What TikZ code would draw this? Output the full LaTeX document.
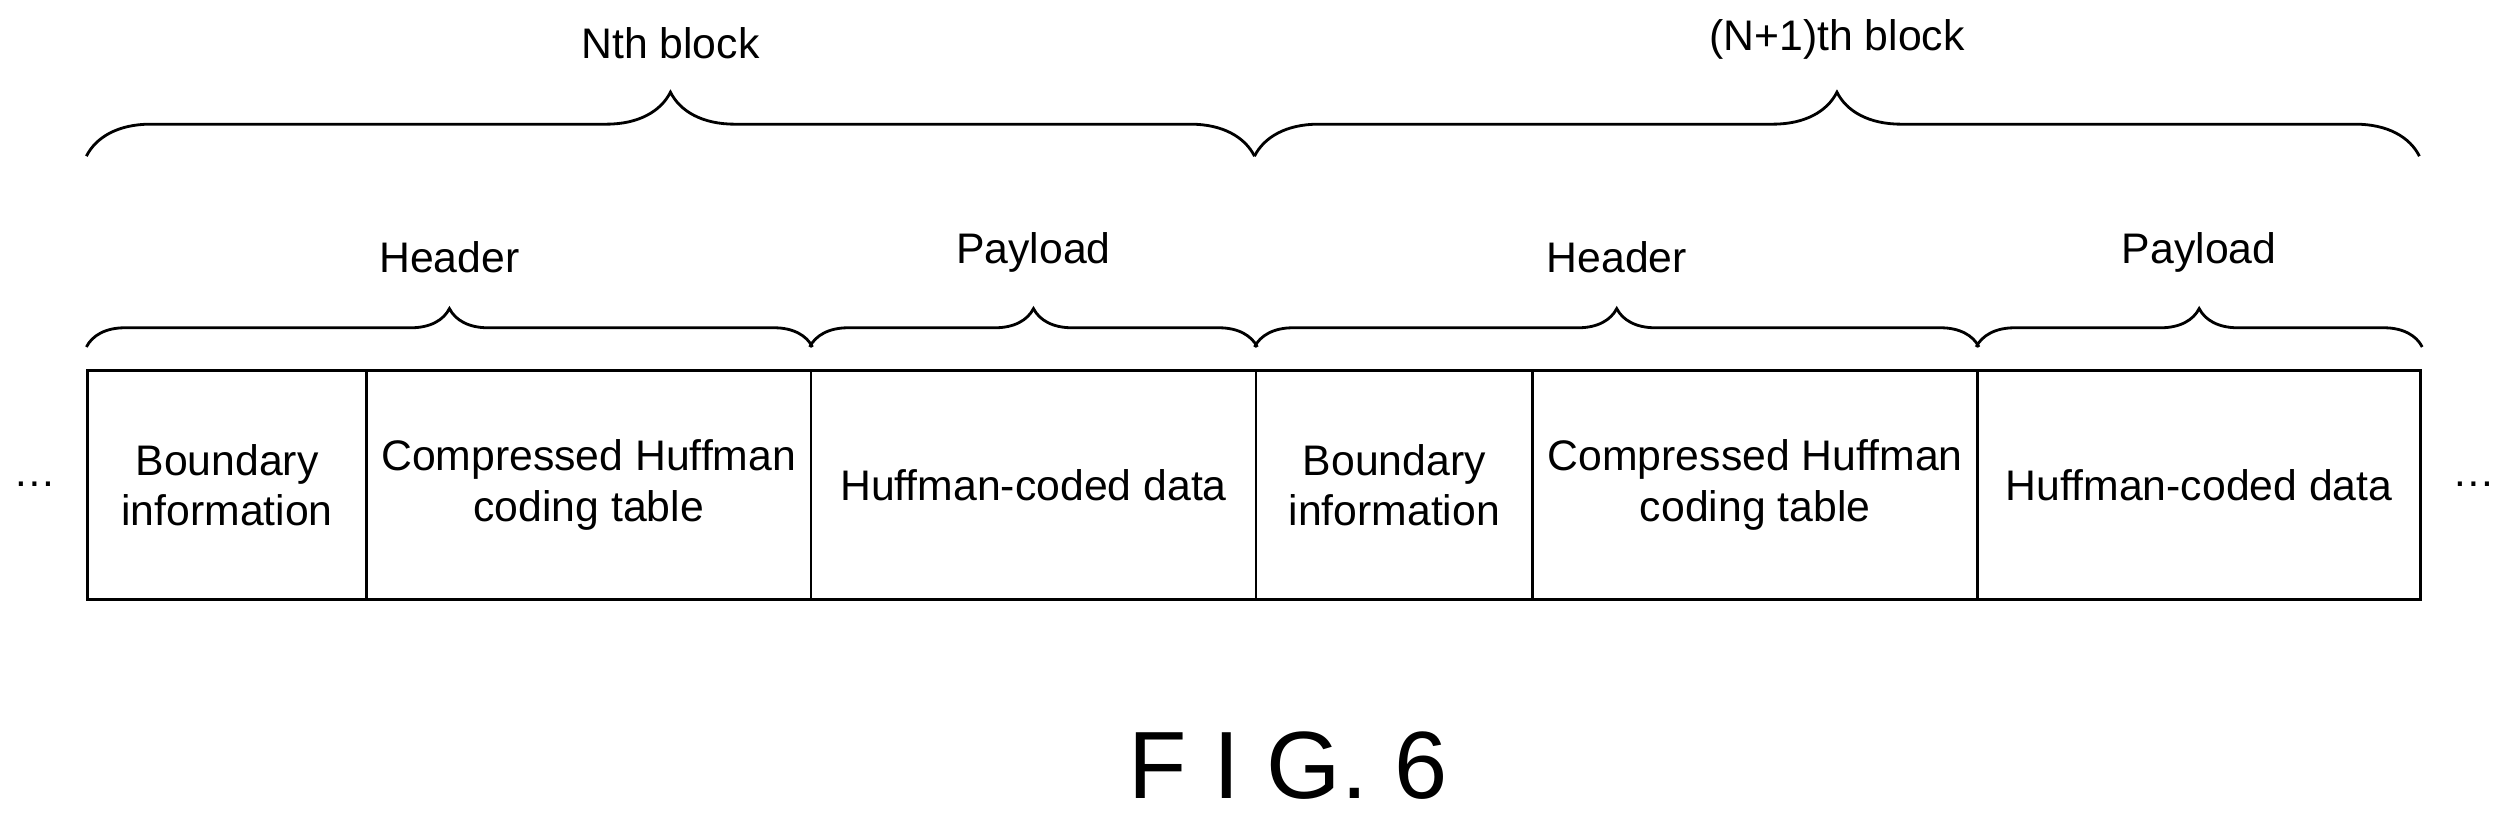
\documentclass[tikz,border=0pt]{standalone}
\usepackage{fontspec}
\setmainfont{Liberation Sans}
\usetikzlibrary{decorations.pathreplacing}
\begin{document}
\begin{tikzpicture}[x=0.1mm,y=0.1mm,
  cell/.style={draw,line width=0.5pt,inner sep=0pt,align=center,font=\fontsize{7.6}{9}\selectfont},
  br/.style={decorate,decoration={brace,amplitude=#1},line width=0.5pt},
  lab/.style={font=\fontsize{7.6}{9}\selectfont}]
\useasboundingbox (0,0) rectangle (1568,510.6);
\def\yt{278}\def\yb{135}
\foreach \n/\a/\b in {c1/54/228,c2/228/506,c3/506/784,c4/784/957,c5/957/1235,c6/1235/1512}
  \coordinate (\n-l) at (\a,\yb);
\node[cell,minimum width=174*0.1mm,minimum height=143*0.1mm,anchor=south west] (b1) at (54,\yb) {Boundary\\information};
\node[cell,minimum width=278*0.1mm,minimum height=143*0.1mm,anchor=south west] (t1) at (228,\yb) {Compressed Huffman\\coding table};
\node[cell,minimum width=278*0.1mm,minimum height=143*0.1mm,anchor=south west] (d1) at (506,\yb) {Huffman-coded data};
\node[cell,minimum width=173*0.1mm,minimum height=143*0.1mm,anchor=south west] (b2) at (784,\yb) {Boundary\\information};
\node[cell,minimum width=278*0.1mm,minimum height=143*0.1mm,anchor=south west] (t2) at (957,\yb) {Compressed Huffman\\coding table};
\node[cell,minimum width=277*0.1mm,minimum height=143*0.1mm,anchor=south west] (d2) at (1235,\yb) {Huffman-coded data};
\node[lab] (dl) at (22,208) {\dots};
\node[lab] (dr) at (1546,208) {\dots};
% second-level braces
\draw[br=2.4mm] ([yshift=1.4mm]b1.north west) -- ([yshift=1.4mm]t1.north east) node[midway,above=3.4mm,lab] (h1) {Header};
\draw[br=2.4mm] ([yshift=1.4mm]d1.north west) -- ([yshift=1.4mm]d1.north east) node[midway,above=3.4mm,lab] (p1) {Payload};
\draw[br=2.4mm] ([yshift=1.4mm]b2.north west) -- ([yshift=1.4mm]t2.north east) node[midway,above=3.4mm,lab] (h2) {Header};
\draw[br=2.4mm] ([yshift=1.4mm]d2.north west) -- ([yshift=1.4mm]d2.north east) node[midway,above=3.4mm,lab] (p2) {Payload};
% top braces
\coordinate (n1) at (54,413); \coordinate (n2) at (784,413); \coordinate (n3) at (1512,413);
\draw[br=4mm] (n1) -- (n2) node[midway,above=4.8mm,lab] (nb) {Nth block};
\draw[br=4mm] (n2) -- (n3) node[midway,above=4.8mm,lab] (nb2) {(N+1)th block};
\node[font=\fontsize{17}{20}\selectfont] (fig) at (805,32) {F I G. 6};
\end{tikzpicture}
\end{document}
